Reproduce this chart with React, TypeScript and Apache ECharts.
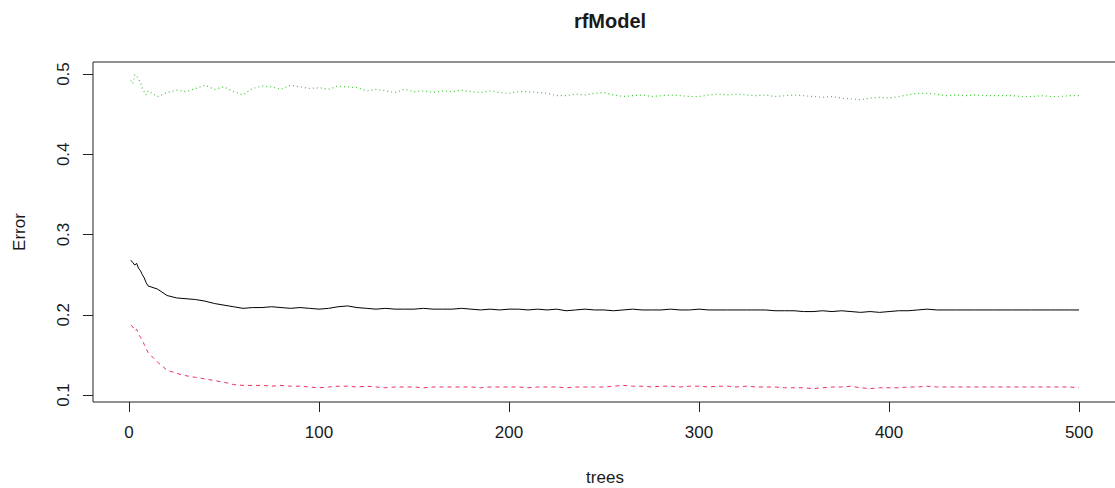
import React, { useEffect, useRef } from "react";
import * as echarts from "echarts";

const trees = [1, 2, 3, 4, 5, 6, 7, 8, 9, 10, 15, 20, 25, 30, 35, 40, 45, 50, 55, 60, 65, 70, 75, 80, 85, 90, 95, 100, 105, 110, 115, 120, 125, 130, 135, 140, 145, 150, 155, 160, 165, 170, 175, 180, 185, 190, 195, 200, 205, 210, 215, 220, 225, 230, 235, 240, 245, 250, 255, 260, 265, 270, 275, 280, 285, 290, 295, 300, 305, 310, 315, 320, 325, 330, 335, 340, 345, 350, 355, 360, 365, 370, 375, 380, 385, 390, 395, 400, 405, 410, 415, 420, 425, 430, 435, 440, 445, 450, 455, 460, 465, 470, 475, 480, 485, 490, 495, 500];

const oobError = [0.268, 0.265, 0.262, 0.264, 0.258, 0.255, 0.25, 0.246, 0.24, 0.236, 0.232, 0.224, 0.221, 0.22, 0.219, 0.217, 0.214, 0.212, 0.21, 0.208, 0.209, 0.209, 0.21, 0.209, 0.208, 0.209, 0.208, 0.207, 0.208, 0.21, 0.211, 0.209, 0.208, 0.207, 0.208, 0.207, 0.207, 0.207, 0.208, 0.207, 0.207, 0.207, 0.208, 0.207, 0.206, 0.207, 0.206, 0.207, 0.207, 0.206, 0.207, 0.206, 0.207, 0.205, 0.206, 0.207, 0.206, 0.206, 0.205, 0.206, 0.207, 0.206, 0.206, 0.206, 0.207, 0.206, 0.206, 0.207, 0.206, 0.206, 0.206, 0.206, 0.206, 0.206, 0.206, 0.205, 0.205, 0.205, 0.204, 0.204, 0.205, 0.204, 0.205, 0.204, 0.203, 0.204, 0.203, 0.204, 0.205, 0.205, 0.206, 0.207, 0.206, 0.206, 0.206, 0.206, 0.206, 0.206, 0.206, 0.206, 0.206, 0.206, 0.206, 0.206, 0.206, 0.206, 0.206, 0.206];

const class1Error = [0.187, 0.185, 0.18, 0.182, 0.176, 0.172, 0.168, 0.163, 0.158, 0.153, 0.141, 0.131, 0.127, 0.124, 0.122, 0.12, 0.118, 0.116, 0.113, 0.112, 0.112, 0.112, 0.111, 0.112, 0.111, 0.111, 0.11, 0.109, 0.11, 0.111, 0.111, 0.11, 0.111, 0.11, 0.109, 0.11, 0.11, 0.11, 0.109, 0.11, 0.11, 0.11, 0.11, 0.11, 0.109, 0.11, 0.11, 0.11, 0.11, 0.109, 0.11, 0.11, 0.11, 0.109, 0.11, 0.11, 0.11, 0.11, 0.111, 0.112, 0.111, 0.111, 0.11, 0.111, 0.111, 0.11, 0.111, 0.111, 0.11, 0.111, 0.111, 0.11, 0.111, 0.11, 0.11, 0.11, 0.109, 0.109, 0.109, 0.108, 0.109, 0.11, 0.11, 0.111, 0.109, 0.108, 0.109, 0.109, 0.109, 0.11, 0.11, 0.111, 0.11, 0.11, 0.11, 0.11, 0.11, 0.11, 0.11, 0.11, 0.11, 0.11, 0.11, 0.11, 0.11, 0.11, 0.11, 0.109];

const class2Error = [0.492, 0.488, 0.499, 0.498, 0.493, 0.49, 0.482, 0.478, 0.474, 0.479, 0.472, 0.477, 0.48, 0.478, 0.482, 0.486, 0.481, 0.484, 0.478, 0.474, 0.482, 0.485, 0.484, 0.481, 0.486, 0.484, 0.482, 0.483, 0.481, 0.485, 0.484, 0.483, 0.479, 0.481, 0.479, 0.477, 0.481, 0.478, 0.479, 0.477, 0.479, 0.478, 0.48, 0.478, 0.477, 0.479, 0.477, 0.476, 0.478, 0.478, 0.477, 0.476, 0.473, 0.473, 0.475, 0.474, 0.476, 0.477, 0.474, 0.472, 0.473, 0.474, 0.472, 0.473, 0.474, 0.473, 0.472, 0.472, 0.474, 0.475, 0.474, 0.475, 0.474, 0.473, 0.474, 0.472, 0.473, 0.474, 0.473, 0.472, 0.471, 0.472, 0.47, 0.469, 0.468, 0.47, 0.471, 0.47, 0.472, 0.474, 0.476, 0.476, 0.475, 0.473, 0.474, 0.473, 0.474, 0.473, 0.473, 0.473, 0.473, 0.472, 0.472, 0.473, 0.472, 0.472, 0.473, 0.473, 0.474];

const xTicks = [0, 100, 200, 300, 400, 500];
const yTicks = [0.1, 0.2, 0.3, 0.4, 0.5];

const FONT = "'Liberation Sans', Arial, sans-serif";
const TXT = "#1a1a1a";

export default function App() {
  const ref = useRef<HTMLDivElement>(null);
  useEffect(() => {
    document.body.style.margin = "0";
    const chart = echarts.init(ref.current!, null, { renderer: "svg" });
    const pair = (vals: number[]) => trees.map((t, i) => [t, vals[i]]);
    chart.setOption({
      animation: false,
      backgroundColor: "#ffffff",
      title: {
        text: "rfModel",
        left: 605,
        top: 6,
        textAlign: "center",
        textStyle: { fontFamily: FONT, fontSize: 20, fontWeight: "bold", color: TXT },
      },
      grid: {
        left: 93,
        top: 62,
        width: 1024,
        height: 340,
        outerBoundsMode: "none",
        containLabel: false,
        show: true,
        borderColor: "#222",
        borderWidth: 1,
        backgroundColor: "transparent",
      },
      xAxis: {
        type: "value",
        min: -18.96,
        max: 519.96,
        name: "trees",
        nameLocation: "middle",
        nameGap: 66,
        nameTextStyle: { fontFamily: FONT, fontSize: 17, color: TXT, lineHeight: 18 },
        axisLine: { show: false, onZero: false },
        splitLine: { show: false },
        axisTick: {
          show: true,
          length: 10,
          customValues: xTicks,
          lineStyle: { color: "#222", width: 1 },
        },
        axisLabel: {
          customValues: xTicks,
          margin: 22,
          fontFamily: FONT,
          fontSize: 17,
          color: TXT,
          formatter: (v: number) => String(v),
        },
      },
      yAxis: {
        type: "value",
        min: 0.0913,
        max: 0.515,
        name: "Error",
        nameLocation: "middle",
        nameGap: 65,
        nameRotate: 90,
        nameTextStyle: { fontFamily: FONT, fontSize: 17, color: TXT },
        axisLine: { show: false, onZero: false },
        splitLine: { show: false },
        axisTick: {
          show: true,
          length: 10,
          customValues: yTicks,
          lineStyle: { color: "#222", width: 1 },
        },
        axisLabel: {
          customValues: yTicks,
          rotate: 90,
          margin: 21,
          fontFamily: FONT,
          fontSize: 17,
          color: TXT,
          formatter: (v: number) => v.toFixed(1),
        },
      },
      series: [
        {
          name: "OOB",
          type: "line",
          data: pair(oobError),
          showSymbol: false,
          silent: true,
          lineStyle: { color: "#000000", width: 1, type: "solid" },
        },
        {
          name: "1",
          type: "line",
          data: pair(class1Error),
          showSymbol: false,
          silent: true,
          lineStyle: { color: "#EE2F5C", width: 1, type: [4, 4] },
        },
        {
          name: "2",
          type: "line",
          data: pair(class2Error),
          showSymbol: false,
          silent: true,
          lineStyle: { color: "#3FC832", width: 1.2, type: [1, 3] },
        },
      ],
    });
    return () => chart.dispose();
  }, []);
  return <div ref={ref} style={{ width: 1115, height: 488 }} />;
}
